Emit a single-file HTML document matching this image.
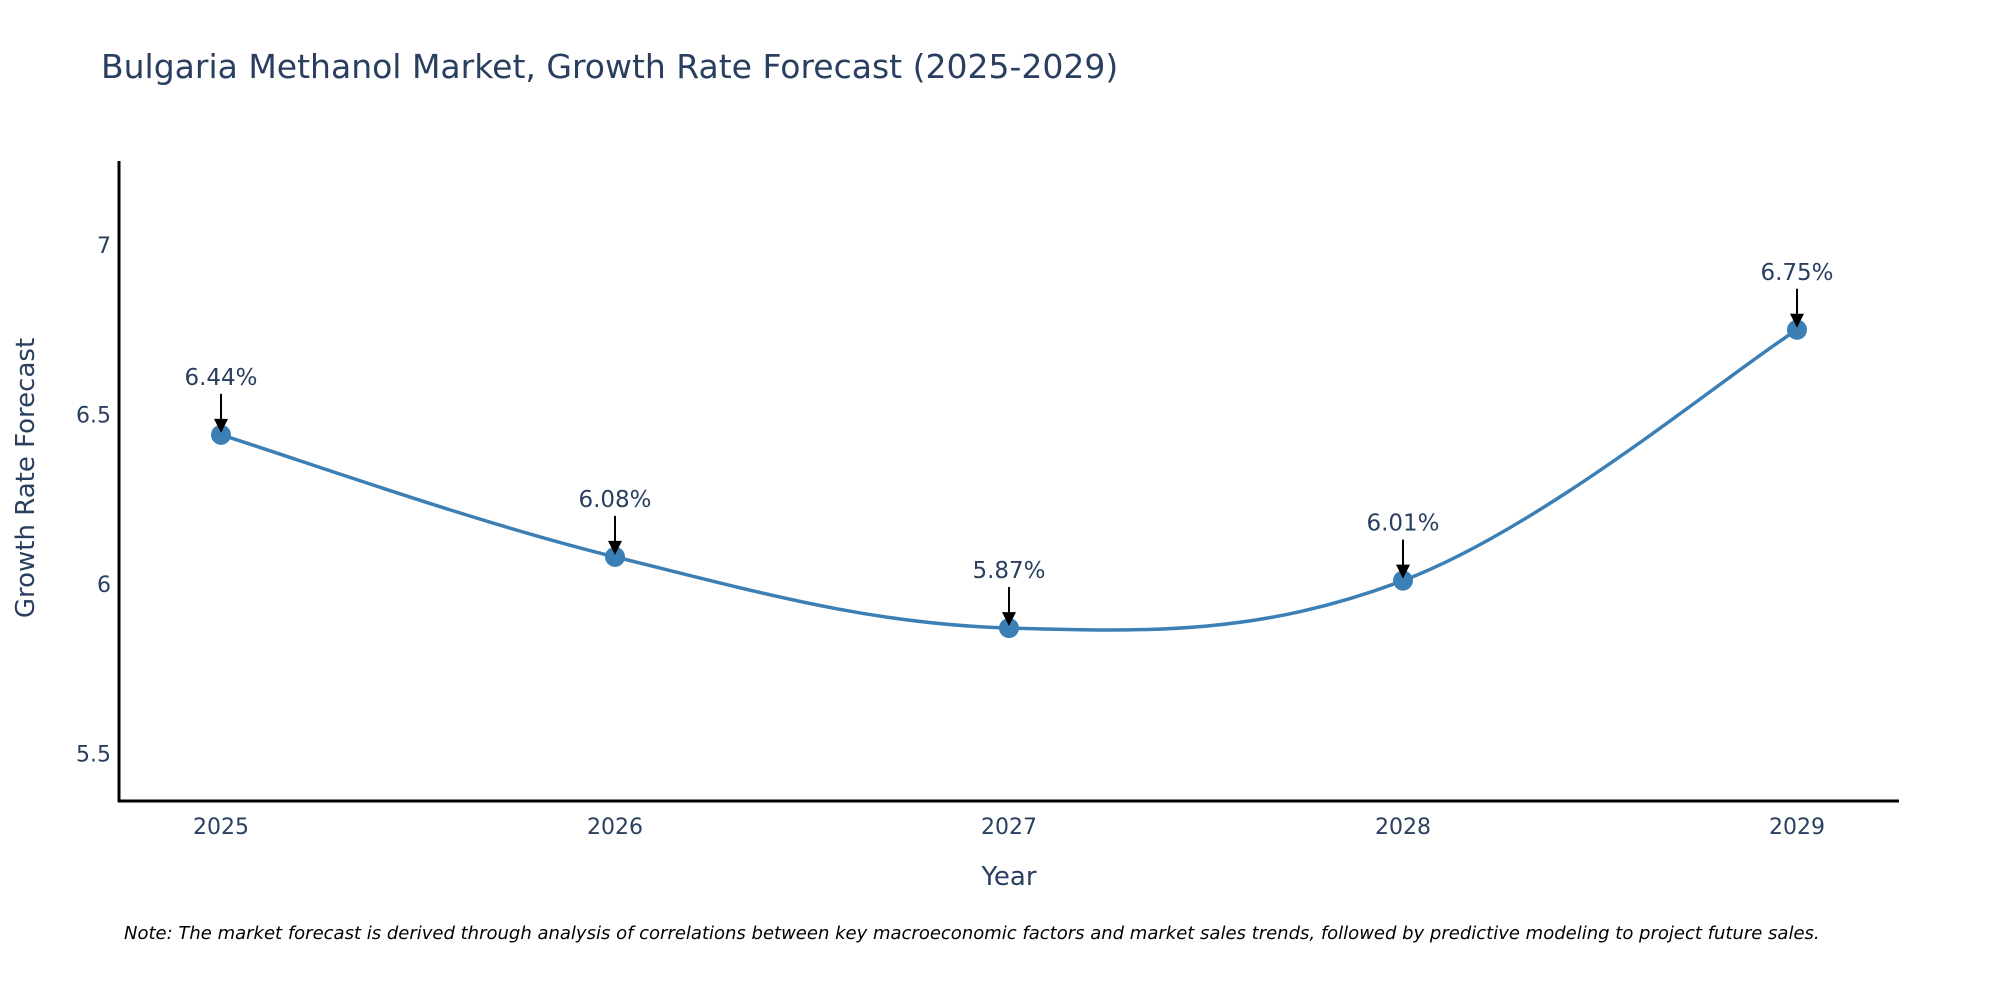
<!DOCTYPE html>
<html><head><meta charset="utf-8"><style>
body{margin:0;background:#fff;}
svg{display:block;font-family:"DejaVu Sans","Liberation Sans",sans-serif;}
</style></head><body>
<svg id="chart" width="2000" height="1000" viewBox="0 0 2000 1000">
<text x="101" y="78" font-size="33" fill="#2a3f5f">Bulgaria Methanol Market, Growth Rate Forecast (2025-2029)</text>
<g id="yticks"></g>
<g id="xticks"></g>
<line x1="119" y1="161" x2="119" y2="802" stroke="#000" stroke-width="3"/>
<line x1="118" y1="801" x2="1899" y2="801" stroke="#000" stroke-width="3"/>
<text transform="translate(34,478) rotate(-90)" text-anchor="middle" font-size="26" fill="#2a3f5f">Growth Rate Forecast</text>
<text x="1009" y="885" text-anchor="middle" font-size="26" fill="#2a3f5f">Year</text>
<g id="series"></g>
<text x="124" y="939" font-size="18" font-style="italic" fill="#000">Note: The market forecast is derived through analysis of correlations between key macroeconomic factors and market sales trends, followed by predictive modeling to project future sales.</text>
</svg>
<script>
const categories = ["2025","2026","2027","2028","2029"];
const values = [6.44, 6.08, 5.87, 6.01, 6.75];
const yTickValues = [5.5, 6, 6.5, 7];
const yTickLabels = ["5.5","6","6.5","7"];
const NS="http://www.w3.org/2000/svg";
function xs(i){return 221+i*394;}
function ys(v){return 584-(v-6)*339;}
function mk(tag,attrs,parent){const e=document.createElementNS(NS,tag);for(const k in attrs)e.setAttribute(k,attrs[k]);parent.appendChild(e);return e;}
const yt=document.getElementById('yticks');
yTickValues.forEach((v,i)=>{const t=mk('text',{x:111,y:ys(v)+8,'text-anchor':'end','font-size':'22',fill:'#2a3f5f'},yt);


t.textContent=yTickLabels[i];});
const xt=document.getElementById('xticks');
categories.forEach((c,i)=>{const t=mk('text',{x:xs(i),y:834,'text-anchor':'middle','font-size':'22',fill:'#2a3f5f'},xt);


t.textContent=c;});
const g=document.getElementById('series');
const pts=values.map((v,i)=>[xs(i),ys(v)]);
let d=`M${pts[0][0]},${pts[0][1]}`;
const tens=0.18;
for(let i=0;i<pts.length-1;i++){
 const p0=pts[Math.max(0,i-1)],p1=pts[i],p2=pts[i+1],p3=pts[Math.min(pts.length-1,i+2)];
 const c1=[p1[0]+(p2[0]-p0[0])*tens,p1[1]+(p2[1]-p0[1])*tens];
 const c2=[p2[0]-(p3[0]-p1[0])*tens,p2[1]-(p3[1]-p1[1])*tens];
 d+=` C${c1[0]},${c1[1]} ${c2[0]},${c2[1]} ${p2[0]},${p2[1]}`;
}
const path=mk('path',{d:d,fill:'none',stroke:'#3b7fb5','stroke-width':'3.5'},g);


pts.forEach((p,i)=>{
 const c=mk('circle',{cx:p[0],cy:p[1],r:10,fill:'#3b7fb5'},g);
 
 
 const l=mk('line',{x1:p[0],y1:p[1]-41,x2:p[0],y2:p[1]-14,stroke:'#000','stroke-width':'2'},g);
 
 
 const h=mk('polygon',{points:`${p[0]-7},${p[1]-16} ${p[0]+7},${p[1]-16} ${p[0]},${p[1]-2}`,fill:'#000'},g);
 
 
 const t=mk('text',{x:p[0],y:p[1]-50,'text-anchor':'middle','font-size':'23',fill:'#2a3f5f'},g);
 
 
 t.textContent=values[i].toFixed(2)+'%';
});
</script>
</body></html>
